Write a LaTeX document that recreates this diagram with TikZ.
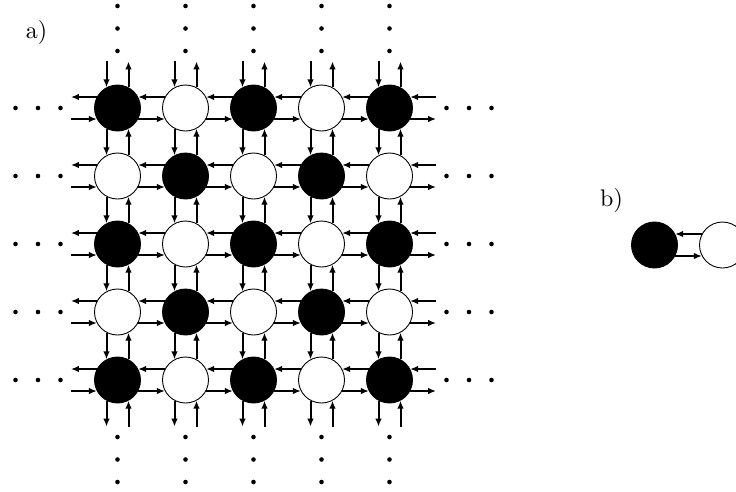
\documentclass[tikz,border=0pt]{standalone}
\usepackage{fontspec}
\newfontfamily\lmten{lmroman10-regular}[Extension=.otf]
\usetikzlibrary{arrows.meta,calc}
\begin{document}
\begin{tikzpicture}[x=1pt,y=-1pt,
  site/.style={circle,draw=black,line width=0.9pt,minimum size=46pt,inner sep=0pt,outer sep=0pt},
  arr/.style={line width=2pt,-{Latex[length=8pt,width=6.5pt]}},
  dotnode/.style={circle,fill=black,inner sep=0pt,minimum size=4.6pt},
  lbl/.style={font=\lmten\fontsize{24}{28}\selectfont,inner sep=0pt}]
\useasboundingbox (0,0) rectangle (736,491);
\def\bx{20.6pt}\def\of{11pt}\def\ln{26pt}
% labels
\node[lbl] (la) at (36.5,32.5) {a)};
\node[lbl] (lb) at (611.5,200) {b)};
% lattice sites
\foreach \i in {1,...,5}{\foreach \j in {1,...,5}{
  \pgfmathtruncatemacro{\p}{mod(\i+\j,2)}
  \ifnum\p=0 \def\fc{black}\else\def\fc{white}\fi
  \node[site,fill=\fc] (c-\i-\j) at ({117.5+68*(\j-1)},{108+68*(\i-1)}) {};
}}
% horizontal arrows
\foreach \i in {1,...,5}{\foreach \j [evaluate=\j as \jj using int(\j+1)] in {1,...,4}{
  \draw[arr] ([xshift=-\bx,yshift=\of]c-\i-\jj.center) -- ([xshift=\bx,yshift=\of]c-\i-\j.center);
  \draw[arr] ([xshift=\bx,yshift=-\of]c-\i-\j.center) -- ([xshift=-\bx,yshift=-\of]c-\i-\jj.center);
}}
% vertical arrows
\foreach \i [evaluate=\i as \ii using int(\i+1)] in {1,...,4}{\foreach \j in {1,...,5}{
  \draw[arr] ([xshift=-\of,yshift=-\bx]c-\i-\j.center) -- ([xshift=-\of,yshift=\bx]c-\ii-\j.center);
  \draw[arr] ([xshift=\of,yshift=\bx]c-\ii-\j.center) -- ([xshift=\of,yshift=-\bx]c-\i-\j.center);
}}
% outer arrows left/right
\foreach \i in {1,...,5}{
  \coordinate (lt-\i) at ([xshift=-\bx-\ln,yshift=\of]c-\i-1.center);
  \coordinate (lb-\i) at ([xshift=-\bx-\ln,yshift=-\of]c-\i-1.center);
  \coordinate (rt-\i) at ([xshift=\bx+\ln,yshift=\of]c-\i-5.center);
  \coordinate (rb-\i) at ([xshift=\bx+\ln,yshift=-\of]c-\i-5.center);
  \draw[arr] ([xshift=-\bx,yshift=\of]c-\i-1.center) -- (lt-\i);
  \draw[arr] (lb-\i) -- ([xshift=-\bx,yshift=-\of]c-\i-1.center);
  \draw[arr] (rt-\i) -- ([xshift=\bx,yshift=\of]c-\i-5.center);
  \draw[arr] ([xshift=\bx,yshift=-\of]c-\i-5.center) -- (rb-\i);
  \node[dotnode] (dl1-\i) at ([xshift=-57pt]c-\i-1.center) {};
  \node[dotnode] (dl2-\i) at ([xshift=-79.5pt]c-\i-1.center) {};
  \node[dotnode] (dl3-\i) at ([xshift=-102pt]c-\i-1.center) {};
  \node[dotnode] (dr1-\i) at ([xshift=57pt]c-\i-5.center) {};
  \node[dotnode] (dr2-\i) at ([xshift=79.5pt]c-\i-5.center) {};
  \node[dotnode] (dr3-\i) at ([xshift=102pt]c-\i-5.center) {};
}
% outer arrows top/bottom
\foreach \j in {1,...,5}{
  \coordinate (tl-\j) at ([xshift=-\of,yshift=\bx+\ln]c-1-\j.center);
  \coordinate (tr-\j) at ([xshift=\of,yshift=\bx+\ln]c-1-\j.center);
  \coordinate (bl-\j) at ([xshift=-\of,yshift=-\bx-\ln]c-5-\j.center);
  \coordinate (br-\j) at ([xshift=\of,yshift=-\bx-\ln]c-5-\j.center);
  \draw[arr] (tl-\j) -- ([xshift=-\of,yshift=\bx]c-1-\j.center);
  \draw[arr] ([xshift=\of,yshift=\bx]c-1-\j.center) -- (tr-\j);
  \draw[arr] ([xshift=-\of,yshift=-\bx]c-5-\j.center) -- (bl-\j);
  \draw[arr] (br-\j) -- ([xshift=\of,yshift=-\bx]c-5-\j.center);
  \node[dotnode] (dt1-\j) at ([yshift=57pt]c-1-\j.center) {};
  \node[dotnode] (dt2-\j) at ([yshift=79.5pt]c-1-\j.center) {};
  \node[dotnode] (dt3-\j) at ([yshift=102pt]c-1-\j.center) {};
  \node[dotnode] (db1-\j) at ([yshift=-57pt]c-5-\j.center) {};
  \node[dotnode] (db2-\j) at ([yshift=-79.5pt]c-5-\j.center) {};
  \node[dotnode] (db3-\j) at ([yshift=-102pt]c-5-\j.center) {};
}
% panel b
\node[site,fill=black] (pb) at (654.5,245) {};
\node[site,fill=white] (pw) at (722.5,245) {};
\draw[arr] ([xshift=-\bx,yshift=\of]pw.center) -- ([xshift=\bx,yshift=\of]pb.center);
\draw[arr] ([xshift=\bx,yshift=-\of]pb.center) -- ([xshift=-\bx,yshift=-\of]pw.center);
\end{tikzpicture}
\end{document}
